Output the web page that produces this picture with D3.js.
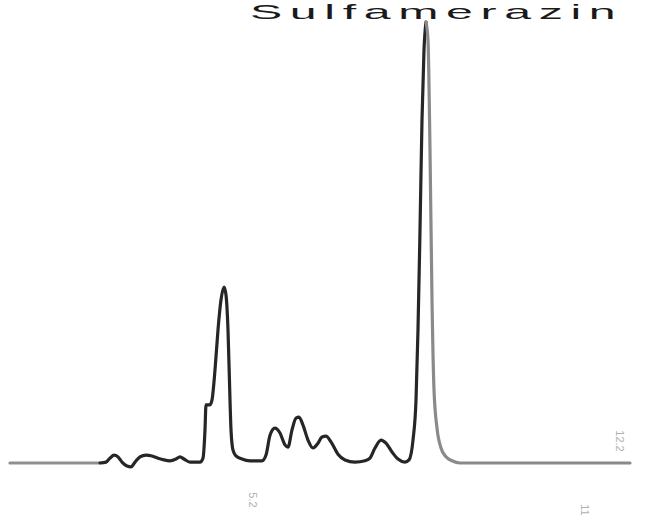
<!DOCTYPE html>
<html>
<head>
<meta charset="utf-8">
<script src="https://cdn.jsdelivr.net/npm/d3@7"></script>
<style>
  body { margin: 0; background: #fff; }
  svg { display: block; }
</style>
</head>
<body>
<div id="vis1"></div>
<script>
const WIDTH = 647;
const HEIGHT = 529;

// retention time (min) and detector signal (% of main peak)
const TIMES = [0, 1.0, 1.8, 1.92, 2.0, 2.08, 2.16, 2.24, 2.34, 2.42, 2.5, 2.6, 2.72, 2.84, 2.96,
  3.08, 3.2, 3.32, 3.4, 3.48, 3.6, 3.8, 3.86, 3.9, 3.92, 4.0, 4.04, 4.1, 4.16, 4.22, 4.28,
  4.32, 4.36, 4.4, 4.42, 4.46, 4.52, 4.64, 4.8, 5.04, 5.12, 5.2, 5.3, 5.4, 5.5, 5.56, 5.64,
  5.72, 5.78, 5.86, 5.96, 6.06, 6.16, 6.24, 6.32, 6.42, 6.56, 6.7, 6.9, 7.1, 7.2, 7.3, 7.42,
  7.52, 7.64, 7.76, 7.9, 7.98, 8.06, 8.12, 8.16, 8.2, 8.24, 8.28, 8.32, 8.36, 8.4, 8.44,
  8.48, 8.54, 8.62, 8.72, 8.84, 9.0, 9.8, 12.4];
const SIGNAL = [0, 0, 0, 0.2, 1.1, 1.8, 1.4, 0.2, -0.7, -0.9, 0.2, 1.4, 1.8, 1.6, 1.1,
  0.7, 0.5, 0.9, 1.4, 0.9, 0.2, 0.2, 1.1, 7.5, 13.2, 13.2, 14.3, 21.1, 30.2, 37.0, 39.9,
  38.1, 30.2, 14.3, 7.5, 2.9, 1.6, 0.9, 0.5, 0.5, 1.8, 6.3, 7.9, 6.8, 4.1, 3.6, 7.5,
  10.2, 10.4, 8.6, 5.2, 3.4, 4.5, 5.9, 6.1, 4.8, 2.0, 0.7, 0.2, 0.5, 1.1, 3.4, 5.2,
  4.5, 2.5, 0.9, 0.2, 0.7, 5.2, 14.3, 30.2, 52.8, 77.8, 93.7, 100, 95.9, 71.0, 37.0,
  16.6, 7.9, 3.4, 1.4, 0.5, 0, 0, 0];

// where the trace is printed dark vs. faded grey
const DARK_FROM = 1.8;
const DARK_TO = 8.32;

const TITLE = "Sulfamerazin";

// faded, sideways retention-time prints under / beside the trace
const NOTE_TIMES = [4.86, 11.5, 12.2];
const NOTE_TEXTS = ["5.2", "11", "12.2"];

const FRAME = d3.select("#vis1")
  .append("svg")
    .attr("width", WIDTH)
    .attr("height", HEIGHT);

function main() {
  const data = TIMES.map((t, i) => ({ t: t, s: SIGNAL[i] }));

  const X_SCALE = d3.scaleLinear().domain([0, 12.4]).range([10, 630]);
  const Y_SCALE = d3.scaleLinear().domain([0, 100]).range([463, 22]);

  const line = d3.line()
    .x(d => X_SCALE(d.t))
    .y(d => Y_SCALE(d.s))
    .curve(d3.curveMonotoneX);

  const parts = [
    { rows: data.filter(d => d.t <= DARK_FROM), color: "#8f8f8f" },
    { rows: data.filter(d => d.t >= DARK_FROM && d.t <= DARK_TO), color: "#262626" },
    { rows: data.filter(d => d.t >= DARK_TO), color: "#8a8a8a" }
  ];

  FRAME.selectAll(".trace")
    .data(parts)
    .enter().append("path")
      .attr("class", "trace")
      .attr("d", d => line(d.rows))
      .attr("fill", "none")
      .attr("stroke", d => d.color)
      .attr("stroke-width", 3.2)
      .attr("stroke-linejoin", "round")
      .attr("stroke-linecap", "round");

  // title, printed in a wide grotesque face
  FRAME.append("text")
    .attr("transform", "translate(250,19) scale(2.3,1)")
    .attr("font-family", "Liberation Sans, Arial, sans-serif")
    .attr("font-size", 21)
    .attr("fill", "#1a1a1a")
    .attr("textLength", 159)
    .attr("lengthAdjust", "spacing")
    .text(TITLE);

  // sideways notes
  const noteY = [500, 510, 441];
  FRAME.selectAll(".note")
    .data(NOTE_TEXTS)
    .enter().append("text")
      .attr("class", "note")
      .attr("transform", (d, i) => "translate(" + (X_SCALE(NOTE_TIMES[i]) - 4) + "," + noteY[i] + ") rotate(90)")
      .attr("text-anchor", "middle")
      .attr("font-family", "Liberation Sans, Arial, sans-serif")
      .attr("font-size", 11)
      .attr("fill", "#b0b0b0")
      .text(d => d);
}

main();
</script>
</body>
</html>
